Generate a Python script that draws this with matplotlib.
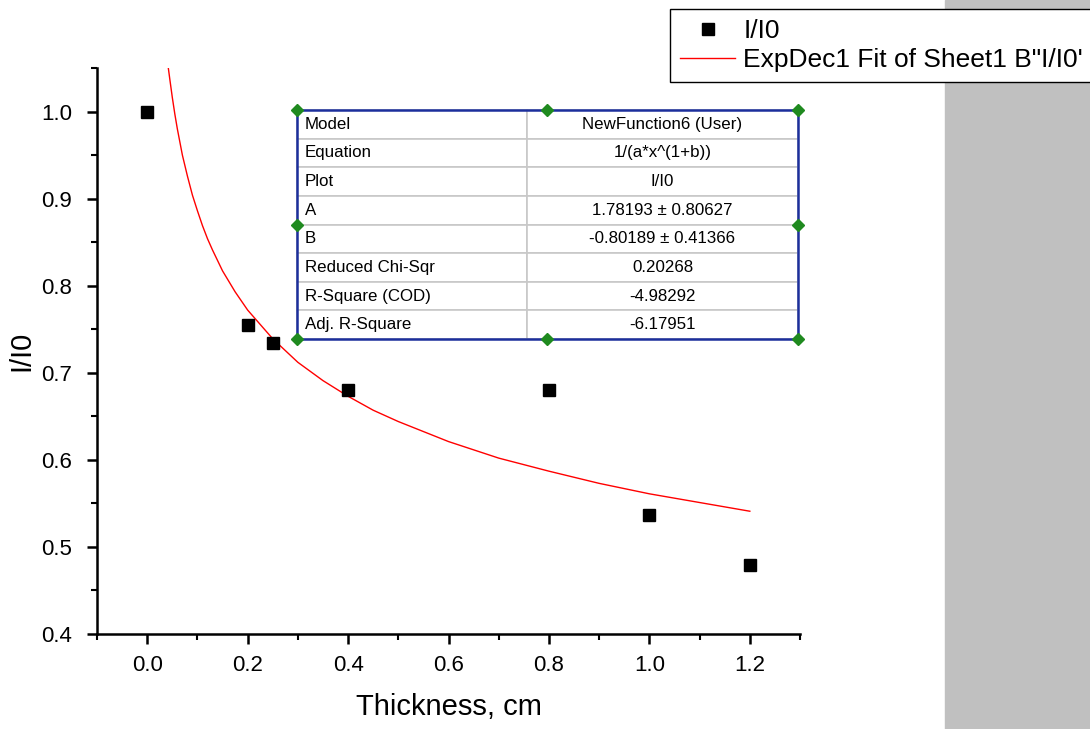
import numpy as np
import matplotlib
matplotlib.use("Agg")
from matplotlib import pyplot as plt
from matplotlib.patches import Rectangle
from matplotlib.ticker import MultipleLocator

plt.rcParams['font.family'] = ['Liberation Sans', 'DejaVu Sans']

# measured points
thickness = [0.0, 0.2, 0.25, 0.4, 0.8, 1.0, 1.2]
ratio = [0.999, 0.755, 0.734, 0.680, 0.680, 0.537, 0.479]

# fit curve
fit_x = [0.042, 0.045, 0.05, 0.055, 0.06, 0.07, 0.08, 0.09, 0.1, 0.11, 0.12, 0.13,
         0.15, 0.175, 0.2, 0.25, 0.3, 0.35, 0.4, 0.45, 0.5, 0.6, 0.7, 0.8, 0.9,
         1.0, 1.1, 1.2]
fit_y = [1.050, 1.037, 1.016, 0.997, 0.980, 0.950, 0.926, 0.904, 0.886, 0.869,
         0.854, 0.841, 0.817, 0.793, 0.772, 0.739, 0.712, 0.691, 0.673, 0.657,
         0.644, 0.621, 0.602, 0.587, 0.573, 0.561, 0.551, 0.541]

table_labels = ["Model", "Equation", "Plot", "A", "B", "Reduced Chi-Sqr",
                "R-Square (COD)", "Adj. R-Square"]
table_values = ["NewFunction6 (User)", "1/(a*x^(1+b))", "I/I0",
                "1.78193 \u00b1 0.80627", "-0.80189 \u00b1 0.41366", "0.20268",
                "-4.98292", "-6.17951"]

fig = plt.figure(figsize=(10.9, 7.29), dpi=100)
fig.patches.append(Rectangle((945 / 1090, 0), 1, 1, transform=fig.transFigure,
                             color='#c0c0c0', zorder=0))

ax = fig.add_axes([0.089, 0.1303, 0.645, 0.7764])
ax.plot(thickness, ratio, 'ks', ms=8.5, ls='none', label='I/I0', zorder=3)
ax.plot(fit_x, fit_y, color='red', lw=1, label='ExpDec1 Fit of Sheet1 B"I/I0\'')

ax.set_xlim(-0.1, 1.3)
ax.set_ylim(0.4, 1.05)
ax.xaxis.set_major_locator(MultipleLocator(0.2))
ax.xaxis.set_minor_locator(MultipleLocator(0.1))
ax.yaxis.set_major_locator(MultipleLocator(0.1))
ax.yaxis.set_minor_locator(MultipleLocator(0.05))
ax.xaxis.set_major_formatter(plt.FormatStrFormatter('%.1f'))
ax.yaxis.set_major_formatter(plt.FormatStrFormatter('%.1f'))
for s in ['top', 'right']:
    ax.spines[s].set_visible(False)
for s in ['left', 'bottom']:
    ax.spines[s].set_linewidth(1.8)
ax.tick_params(which='major', direction='out', length=7, width=1.8, labelsize=16)
ax.tick_params(axis='x', which='major', pad=8)
ax.tick_params(axis='y', which='major', pad=11)
ax.tick_params(which='minor', direction='out', length=4, width=1.5)
ax.set_xlabel('Thickness, cm', fontsize=21, labelpad=12)
ax.set_ylabel('I/I0', fontsize=21, labelpad=4)

# fit results table
tx0, tx1, ty0, ty1 = 0.2845, 0.997, 0.5212, 0.9258
tab = ax.table(cellText=[[a, b] for a, b in zip(table_labels, table_values)],
               colWidths=[0.459, 0.541], bbox=[tx0, ty0, tx1 - tx0, ty1 - ty0],
               zorder=4)
tab.auto_set_font_size(False)
for (r, c), cell in tab.get_celld().items():
    cell.set_edgecolor('#c8c8c8')
    cell.set_linewidth(1.2)
    cell.set_facecolor('white')
    cell.get_text().set_fontsize(12.2)
    if c == 0:
        cell.get_text().set_ha('left')
        cell.PAD = 0.035
    else:
        cell.get_text().set_ha('center')
ax.add_patch(Rectangle((tx0, ty0), tx1 - tx0, ty1 - ty0, transform=ax.transAxes,
                       fill=False, edgecolor='#1c2f9c', lw=1.8, zorder=5, clip_on=False))
handles_x = [tx0, 0.6401, tx1, tx0, tx1, tx0, 0.6401, tx1]
handles_y = [ty1, ty1, ty1, (ty0 + ty1) / 2, (ty0 + ty1) / 2, ty0, ty0, ty0]
ax.plot(handles_x, handles_y, 'D', color='#1f8a1f', ms=6, transform=ax.transAxes,
        clip_on=False, zorder=6)

leg = fig.legend(loc='upper left', bbox_to_anchor=(670 / 1090, 1 - 9 / 729),
                 fontsize=19, frameon=True, fancybox=False, edgecolor='black',
                 handlelength=2.1, borderpad=0.38, labelspacing=0.2,
                 handletextpad=0.3, borderaxespad=0)
leg.get_frame().set_linewidth(1.0)
leg.get_frame().set_alpha(1)

fig.savefig('out.png', dpi=100)
